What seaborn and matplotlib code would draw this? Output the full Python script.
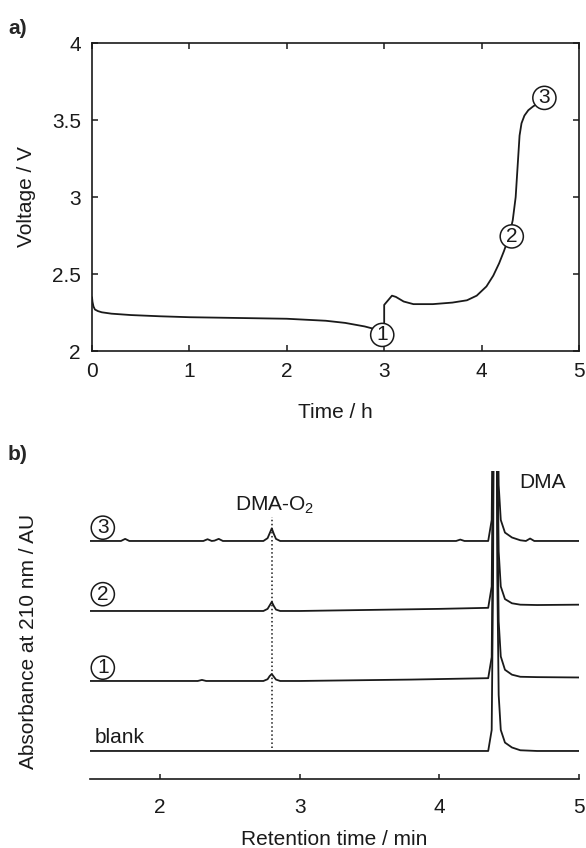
import matplotlib
matplotlib.use("Agg")
import pandas as pd
import seaborn as sns
import matplotlib.pyplot as plt

# Panel a: cell voltage during discharge
time_h = [0.0, 0.005, 0.015, 0.03, 0.06, 0.1, 0.2, 0.4, 0.7, 1.0, 1.5, 2.0, 2.4, 2.6, 2.8, 2.95, 3.0,
          3.0, 3.04, 3.08, 3.12, 3.2, 3.3, 3.5, 3.7, 3.85, 3.95, 4.05, 4.12, 4.18, 4.23, 4.28, 4.32,
          4.35, 4.37, 4.39, 4.41, 4.44, 4.48, 4.53, 4.58]
voltage = [2.35, 2.32, 2.29, 2.27, 2.26, 2.252, 2.243, 2.234, 2.226, 2.22, 2.215, 2.21, 2.197, 2.183,
           2.16, 2.135, 2.125, 2.30, 2.33, 2.36, 2.352, 2.322, 2.305, 2.305, 2.315, 2.33, 2.36, 2.42,
           2.49, 2.57, 2.65, 2.74, 2.85, 3.0, 3.2, 3.40, 3.48, 3.53, 3.565, 3.59, 3.61]
marker_a_x = [2.98, 4.31, 4.645]
marker_a_y = [2.105, 2.745, 3.645]
marker_a_txt = ["1", "2", "3"]

# Panel b: chromatograms (offset traces)
rt_3 = [1.5, 1.72, 1.75, 1.78, 2.0, 2.31, 2.34, 2.37, 2.39, 2.42, 2.45, 2.74, 2.77, 2.785, 2.80, 2.815,
        2.83, 2.86, 3.5, 4.12, 4.15, 4.18, 4.35, 4.375, 4.385, 4.395, 4.405, 4.415, 4.425, 4.44,
        4.47, 4.52, 4.58, 4.62, 4.65, 4.68, 5.0]
ab_3 = [3.0, 3.0, 3.03, 3.0, 3.0, 3.0, 3.025, 3.0, 3.005, 3.03, 3.0, 3.0, 3.04, 3.11, 3.18, 3.10,
        3.03, 3.0, 3.0, 3.0, 3.02, 3.0, 3.0, 3.3, 5.5, 11.0, 11.0, 5.5, 3.8, 3.3, 3.12,
        3.05, 3.01, 3.0, 3.035, 3.0, 3.0]
rt_2 = [1.5, 2.0, 2.5, 2.74, 2.77, 2.785, 2.80, 2.815, 2.83, 2.86, 3.0, 3.5, 4.0, 4.35, 4.375, 4.385,
        4.395, 4.405, 4.415, 4.425, 4.44, 4.47, 4.52, 4.58, 4.7, 5.0]
ab_2 = [2.0, 2.0, 2.0, 2.0, 2.03, 2.08, 2.13, 2.07, 2.02, 2.0, 2.0, 2.015, 2.03, 2.045, 2.35, 4.5,
        10.0, 10.0, 4.5, 2.85, 2.35, 2.17, 2.11, 2.09, 2.085, 2.09]
rt_1 = [1.5, 2.0, 2.27, 2.3, 2.33, 2.74, 2.77, 2.785, 2.80, 2.815, 2.83, 2.86, 3.0, 3.8, 4.35, 4.375,
        4.385, 4.395, 4.405, 4.415, 4.425, 4.44, 4.47, 4.52, 4.58, 4.7, 5.0]
ab_1 = [1.0, 1.0, 1.0, 1.015, 1.0, 1.0, 1.025, 1.07, 1.10, 1.06, 1.02, 1.0, 1.0, 1.02, 1.04, 1.34,
        3.5, 9.0, 9.0, 3.5, 1.85, 1.35, 1.16, 1.09, 1.06, 1.055, 1.05]
rt_blank = [1.5, 2.0, 2.5, 3.0, 3.5, 4.0, 4.35, 4.375, 4.385, 4.395, 4.405, 4.415, 4.425, 4.44, 4.47,
            4.52, 4.58, 4.7, 5.0]
ab_blank = [0.0, 0.0, 0.0, 0.0, 0.0, 0.0, 0.0, 0.3, 2.5, 8.0, 8.0, 2.5, 0.8, 0.3, 0.12,
            0.05, 0.01, 0.0, 0.0]

trace_labels = ["blank", "1", "2", "3"]
trace_label_x = [1.535, 1.59, 1.59, 1.59]
trace_label_y = [0.19, 1.19, 2.24, 3.19]

dma_o2_rt = 2.80

sns.set_theme(style="ticks")
plt.rcParams["font.family"] = ["Liberation Sans", "DejaVu Sans"]
plt.rcParams["mathtext.fontset"] = "custom"
plt.rcParams["mathtext.rm"] = "Liberation Sans"
plt.rcParams["mathtext.it"] = "Liberation Sans:italic"

fs = 15
ink = "#1a1a1a"
fig = plt.figure(figsize=(5.86, 8.48), dpi=100)

# ---- panel a
ax_a = fig.add_axes([0.157, 0.586, 0.831, 0.363])
df_a = pd.DataFrame({"t": time_h, "V": voltage})
sns.lineplot(data=df_a, x="t", y="V", ax=ax_a, color=ink, lw=1.3, sort=False, estimator=None)
ax_a.set_xlim(0, 5)
ax_a.set_ylim(2, 4)
ax_a.set_xticks([0, 1, 2, 3, 4, 5])
ax_a.set_yticks([2, 2.5, 3, 3.5, 4])
ax_a.set_yticklabels(["2", "2.5", "3", "3.5", "4"])
ax_a.tick_params(direction="in", top=True, right=True, length=4.5, width=1.1,
                 labelsize=fs, pad=8, colors=ink)
for s in ax_a.spines.values():
    s.set_linewidth(1.2)
    s.set_color(ink)
ax_a.set_xlabel("Time / h", fontsize=fs, labelpad=16, color=ink)
ax_a.set_ylabel("")
fig.text(27 / 586, 1 - 197 / 848, "Voltage / V", rotation=90, ha="center", va="center",
         fontsize=fs, color=ink)
for x, y, t in zip(marker_a_x, marker_a_y, marker_a_txt):
    ax_a.text(x, y, t, ha="center", va="center", fontsize=15, zorder=5, color=ink,
              bbox=dict(boxstyle="circle,pad=0.1", fc="white", ec=ink, lw=1.1))
fig.text(8 / 586, 1 - 28 / 848, "a)", fontsize=15, fontweight="bold", va="center")

# ---- panel b
ax_b = fig.add_axes([0.154, 0.0814, 0.834, 0.3632])
traces = [(rt_blank, ab_blank), (rt_1, ab_1), (rt_2, ab_2), (rt_3, ab_3)]
for rt, ab in traces:
    d = pd.DataFrame({"rt": rt, "ab": ab})
    sns.lineplot(data=d, x="rt", y="ab", ax=ax_b, color=ink, lw=1.3, estimator=None)
ax_b.plot([dma_o2_rt, dma_o2_rt], [0.04, 3.34], ls=":", color=ink, lw=1.1)
ax_b.set_xlim(1.5, 5)
ax_b.set_ylim(-0.4, 4.0)
ax_b.set_xticks([2, 3, 4, 5])
ax_b.set_yticks([])
sns.despine(ax=ax_b, left=True)
ax_b.spines["bottom"].set_linewidth(1.2)
ax_b.spines["bottom"].set_color(ink)
ax_b.tick_params(axis="x", direction="in", length=3.5, width=1.1, labelsize=fs, pad=14,
                 colors=ink)
ax_b.set_xlabel("Retention time / min", fontsize=fs, labelpad=9, color=ink)
ax_b.set_ylabel("")
fig.text(28 / 586, 1 - 641 / 848, "Absorbance at 210 nm / AU", rotation=90, ha="center",
         va="center", fontsize=fs, color=ink)
for lab, x, y in zip(trace_labels, trace_label_x, trace_label_y):
    if lab == "blank":
        ax_b.text(x, y, lab, ha="left", va="center", fontsize=fs, color=ink)
    else:
        ax_b.text(x, y, lab, ha="center", va="center", fontsize=15, zorder=5, color=ink,
                  bbox=dict(boxstyle="circle,pad=0.1", fc="white", ec=ink, lw=1.1))
ax_b.text(2.82, 3.51, "DMA-O$_2$", ha="center", va="center", fontsize=fs, color=ink)
ax_b.text(4.74, 3.84, "DMA", ha="center", va="center", fontsize=fs, color=ink)
fig.text(8 / 586, 1 - 455 / 848, "b)", fontsize=15, fontweight="bold", va="center")

fig.savefig("out.png", dpi=100)
